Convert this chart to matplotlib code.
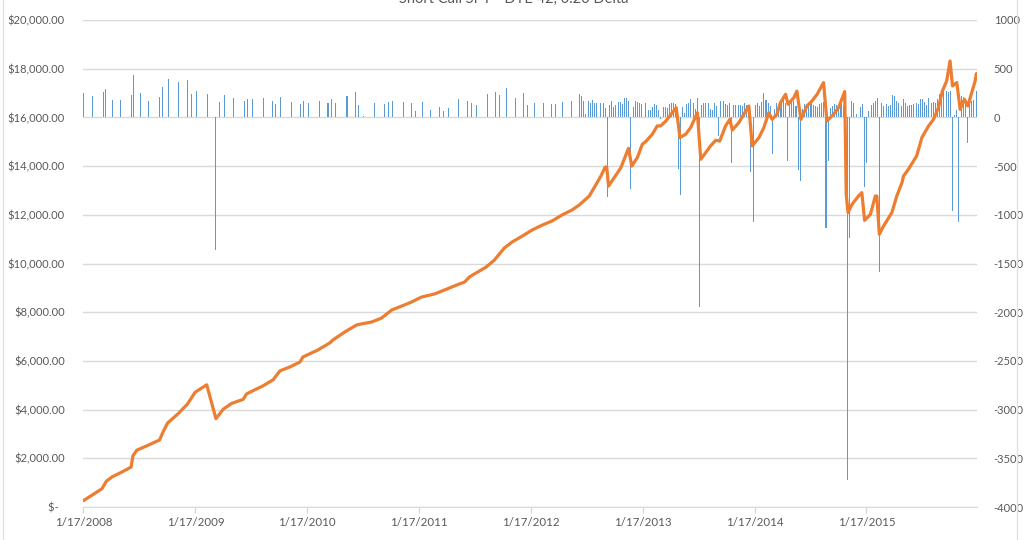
import numpy as np
import pandas as pd
import matplotlib
matplotlib.use('Agg')
import matplotlib.pyplot as plt
from matplotlib.lines import Line2D

plt.rcParams['font.family'] = ['Lato', 'DejaVu Sans']

TITLE = 'Short Call SPY - DTE 42, 0.20 Delta'
START = pd.Timestamp('2008-01-17')

# trades before weekly expirations: days since first trade, P&L per trade
sparse_days = [1, 30, 66, 73, 95, 122, 157, 164, 187, 213,
               249, 258, 278, 310, 340, 353, 369, 405, 431, 444,
               460, 490, 526, 535, 552, 587, 617, 627, 643, 679,
               708, 718, 734, 770, 799, 809, 825,
               861, 890, 900, 916, 952, 982, 995, 1011, 1044, 1073,
               1086, 1109, 1135, 1164, 1177, 1193, 1226, 1255, 1268, 1285,
               1320, 1347, 1360, 1382, 1412, 1438, 1451, 1474, 1503, 1529,
               1542, 1565, 1594]
sparse_pnl = [252, 221, 262, 293, 179, 179, 231, 438, 252, 169,
              210, 314, 397, 366, 386, 241, 272, 241, -1360, 159,
              231, 200, 169, 190, 190, 200, 169, 138, 210, 159,
              138, 169, 148, 169, 148, 190, 148,
              221, 262, 128, 14, 148, 138, 159, 169, 159, 148,
              66, 159, 76, 107, 66, 97, 190, 169, 148, 128,
              241, 262, 231, 304, 200, 252, 128, 148, 148, 138,
              138, 159, 169]

# weekly trades from mid 2012
weekly_start = '2012-06-24'
weekly_pnl = [241, 221, 169, 34, 169, 148, 179, 148, 148, 0,
              148, 148, 97, -820, 128, 169, 107, 128, 159, 159,
              138, 200, 200, 169, -730, 107, 169, 159, 148, 138,
              0, 148, 76, 76, 107, 138, 128, 76, -20, 107,
              107, 97, 138, 148, 148, 138, -530, -793, 107, 45,
              138, 148, 190, 148, 86, 200, -1943, 128, 148, 148,
              148, 86, 76, 148, 117, -188, 169, 169, 138, 128,
              148, -472, 128, 128, 128, 128, 117, 148, 128, 117,
              -564, -1070, 128, 148, 117, 159, 252, 179, 148, 117,
              -373, 86, 148, 117, 159, 200, 148, -445, 138, 190,
              169, 117, -537, -657, 86, 138, 138, 128, 148, 128,
              117, 107, 138, 148, 159, -1139, -445, 97, 117, 138,
              128, 107, 138, 117, 0, -3720, -1235, 169, 148, 34,
              0, 107, 138, -711, -465, 66, 128, 148, 169, 200,
              -1583, 148, 117, 138, 117, 128, 235, 217, 169, 148,
              117, 190, 148, 117, 128, 128, 138, 148, 138, 190,
              190, 159, 128, 200, 148, 159, 148, 190, 241, 276,
              290, 276, 262, 276, -958, 24, 80, -1070, 217, 210,
              159, -260, 159, 169, 179, 276]

# account balance
bal_days = [1, 61, 75, 94, 121, 156, 162, 175, 208, 249,
            260, 275, 310, 340, 365, 403, 433, 457, 484, 522,
            533, 555, 587, 620, 642, 674, 707, 717, 766, 805,
            815, 854, 893, 942, 974, 1007, 1039, 1072, 1104, 1147,
            1179, 1212, 1245, 1261, 1316, 1342, 1375, 1401, 1434, 1466,
            1499, 1531, 1564, 1596, 1619, 1652, 1674, 1690, 1704, 1709,
            1715, 1733, 1755, 1780, 1791, 1809, 1825, 1838, 1858, 1874,
            1885, 1902, 1936, 1948, 1967, 1983, 2005, 2016, 2032, 2048,
            2065, 2078, 2097, 2111, 2119, 2140, 2173, 2184, 2206, 2222,
            2238, 2249, 2265, 2276, 2293, 2301, 2320, 2330, 2343, 2363,
            2379, 2396, 2417, 2428, 2450, 2466, 2486, 2491, 2497, 2510,
            2531, 2542, 2551, 2570, 2586, 2591, 2599, 2613, 2640, 2656,
            2673, 2678, 2694, 2721, 2738, 2760, 2776, 2792, 2805, 2819,
            2830, 2838, 2852, 2863, 2877, 2888, 2901, 2912, 2916]
bal_vals = [264, 750, 1056, 1237, 1404, 1640, 2099, 2335, 2516, 2752,
            3072, 3447, 3836, 4226, 4712, 5018, 3628, 4017, 4253, 4420,
            4643, 4782, 4977, 5226, 5590, 5750, 5950, 6160, 6450, 6740,
            6860, 7190, 7480, 7600, 7760, 8090, 8250, 8420, 8620, 8750,
            8910, 9080, 9240, 9450, 9860, 10140, 10640, 10890, 11130, 11380,
            11580, 11750, 12000, 12200, 12400, 12770, 13250, 13590, 13960, 13960,
            13180, 13520, 13930, 14730, 14000, 14350, 14890, 15030, 15310, 15650,
            15650, 15850, 16400, 15170, 15310, 15580, 16190, 14280, 14550, 14830,
            15060, 15030, 15650, 15920, 15480, 15780, 16470, 14830, 15170, 15580,
            16190, 15920, 16130, 16600, 16950, 16540, 16810, 17080, 15920, 16470,
            16670, 16950, 17430, 15850, 16130, 16400, 17060, 12840, 12090, 12430,
            12770, 12910, 11770, 12020, 12770, 12770, 11200, 11540, 12090, 12770,
            13320, 13590, 13870, 14420, 15170, 15650, 15920, 16400, 17080, 17500,
            18320, 17290, 17430, 16330, 16740, 16470, 17020, 17500, 17800]

tick_years = [2008, 2009, 2010, 2011, 2012, 2013, 2014, 2015]

GRAY = '#595959'
GRID = '#D9D9D9'


def to_dates(days):
    return [START + pd.Timedelta(days=d) for d in days]


def main():
    bar_dates = to_dates(sparse_days) + list(pd.date_range(weekly_start, periods=len(weekly_pnl), freq='7D'))
    bar_vals = sparse_pnl + weekly_pnl

    fig = plt.figure(figsize=(10.28, 5.4), dpi=100)
    ax = fig.add_axes([83 / 1028, 33 / 540, 894 / 1028, 487 / 540])
    ax2 = ax.twinx()
    ax.set_zorder(ax2.get_zorder() + 1)
    ax.patch.set_visible(False)

    ax2.bar(bar_dates, bar_vals, width=3.4, color='#5B9BD5', linewidth=0)
    ax.plot(to_dates(bal_days), bal_vals, color='#ED7D31', lw=2.3,
            solid_joinstyle='round', solid_capstyle='round')

    ax.set_xlim(START - pd.Timedelta(days=1), START + pd.Timedelta(days=2918))
    ax.set_ylim(0, 20000)
    ax2.set_ylim(-4000, 1000)

    ax.set_yticks(np.arange(0, 20001, 2000))
    ax.set_yticklabels(['$-  '] + [f'${v:,.2f}' for v in range(2000, 20001, 2000)])
    ax2.set_yticks(np.arange(-4000, 1001, 500))
    ax2.set_yticklabels([str(v) for v in range(-4000, 1001, 500)])
    ax2.grid(axis='y', color=GRID, lw=1)
    ax2.set_axisbelow(True)

    ticks = [pd.Timestamp(f'{y}-01-17') for y in tick_years]
    ax.set_xticks(ticks)
    ax.set_xticklabels([f'{t.month}/{t.day}/{t.year}' for t in ticks])

    ax.tick_params(axis='y', length=0, pad=13, labelcolor=GRAY, labelsize=8)
    ax2.tick_params(axis='y', length=0, pad=12, labelcolor=GRAY, labelsize=8)
    ax.tick_params(axis='x', length=4, color=GRID, width=1, pad=3, labelcolor=GRAY, labelsize=8.3)

    for a in (ax, ax2):
        for s in a.spines.values():
            s.set_visible(False)
    ax.spines['bottom'].set_visible(True)
    ax.spines['bottom'].set_color(GRID)

    # the title sits partly above the top edge, as in the source screenshot
    fig.text(0.5, 1 - 3 / 540, TITLE, ha='center', va='baseline', fontsize=10.5, color=GRAY)

    # spreadsheet cell borders around the chart
    for xp in (3, 1017):
        fig.add_artist(Line2D([xp / 1028] * 2, [0, 1], transform=fig.transFigure, color='#E1E1E1', lw=1))

    fig.savefig('out.png', dpi=100)


if __name__ == '__main__':
    main()
